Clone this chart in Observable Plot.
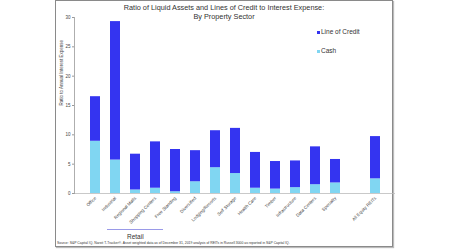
<!DOCTYPE html>
<html>
<head>
<meta charset="utf-8">
<script src="https://cdn.jsdelivr.net/npm/d3@7"></script>
<script src="https://cdn.jsdelivr.net/npm/@observablehq/plot@0.6"></script>
<style>
  html, body { margin: 0; padding: 0; background: #fff; }
  #wrap { position: relative; width: 450px; height: 250px; overflow: hidden; font-family: "Liberation Sans", Arial, sans-serif; }
  #frame { position: absolute; left: 55px; top: 0px; width: 336px; height: 245px; border: 1.5px solid #8a8a8a; box-shadow: 1px 1px 1px #bbb; }
  #chart { position: absolute; left: 0; top: 0; }
  .title { position: absolute; left: 55px; width: 338px; text-align: center; font-size: 7.3px; color: #333; line-height: 9px; }
  .leg { position: absolute; font-size: 6.5px; color: #333; }
  .leg span.sw { display: inline-block; width: 2.5px; height: 2.5px; margin-right: 1.5px; vertical-align: middle; }
  #retailLine { position: absolute; left: 107px; top: 228.5px; width: 56px; height: 0; border-top: 1px solid #9a9ae8; }
  #retail { position: absolute; left: 127px; top: 233px; font-size: 6.5px; color: #333; }
  #source { position: absolute; left: 57px; top: 241px; font-size: 3.4px; color: #333; white-space: nowrap; }
</style>
</head>
<body>
<div id="wrap">
  <div id="frame"></div>
  <div id="chart"></div>
  <div class="title" style="top:2.5px">Ratio of Liquid Assets and Lines of Credit to Interest Expense:</div>
  <div class="title" style="top:12px">By Property Sector</div>
  <div class="leg" style="left:317px; top:28px"><span class="sw" style="background:#3434f0"></span>Line of Credit</div>
  <div class="leg" style="left:317px; top:47px"><span class="sw" style="background:#80d6f2"></span>Cash</div>
  <div id="retailLine"></div>
  <div id="retail">Retail</div>
  <div id="source">Source: S&amp;P Capital IQ, Nareit T-Tracker®. Asset weighted data as of December 31, 2019 analysis of REITs in Russell 3000 as reported in S&amp;P Capital IQ.</div>
</div>
<script>
const sectors = ["Office", "Industrial", "Regional Malls", "Shopping Centers", "Free Standing", "Diversified", "Lodging/Resorts", "Self Storage", "Health Care", "Timber", "Infrastructure", "Data Centers", "Specialty", "All Equity REITs"];
const cash =         [8.9, 5.7, 0.6, 0.9, 0.3, 2.0, 4.4, 3.4, 0.9, 0.75, 1.0, 1.5, 1.8, 2.5];
const lineOfCredit = [7.6, 23.6, 6.1, 7.9, 7.2, 5.3, 6.3, 7.7, 6.1, 4.7, 4.55, 6.45, 4.0, 7.2];
const xDomain = ["Office", "Industrial", "Regional Malls", "Shopping Centers", "Free Standing", "Diversified", "Lodging/Resorts", "Self Storage", "Health Care", "Timber", "Infrastructure", "Data Centers", "Specialty", " ", "All Equity REITs"];
const yTicks = [0, 5, 10, 15, 20, 25, 30];
const seriesNames = ["Cash", "Line of Credit"];
const seriesColors = ["#80d6f2", "#3434f0"];

const rows = [];
sectors.forEach((s, i) => {
  rows.push({sector: s, series: "Cash", value: cash[i]});
  rows.push({sector: s, series: "Line of Credit", value: lineOfCredit[i]});
});

const plot = Plot.plot({
  width: 450,
  height: 250,
  marginLeft: 74,
  marginRight: 55,
  marginTop: 17,
  marginBottom: 57,
  style: {fontFamily: "'Liberation Sans', Arial, sans-serif", background: "transparent", color: "#333"},
  x: {domain: xDomain, padding: 0.5, label: null},
  y: {domain: [0, 30], label: null},
  color: {domain: seriesNames, range: seriesColors},
  marks: [
    Plot.ruleY([0], {stroke: "#bbb", strokeWidth: 0.8}),
    Plot.barY(rows, Plot.stackY({order: seriesNames}, {x: "sector", y: "value", fill: "series"})),
    Plot.axisX({tickRotate: -45, tickSize: 0, tickPadding: 4, fontSize: 4.5, fill: "#444", tickFormat: d => d.trim()}),
    Plot.axisY({ticks: yTicks, tickSize: 2, tickPadding: 2, fontSize: 4.5, stroke: "#999", fill: "#444", label: null}),
    Plot.frame({anchor: "left", stroke: "#999", strokeWidth: 0.8}),
    Plot.text(["Ratio to Annual Interest Expense"], {frameAnchor: "left", rotate: -90, dx: -13, fontSize: 4.5, fill: "#444"})
  ]
});
document.getElementById("chart").appendChild(plot);
</script>
</body>
</html>
